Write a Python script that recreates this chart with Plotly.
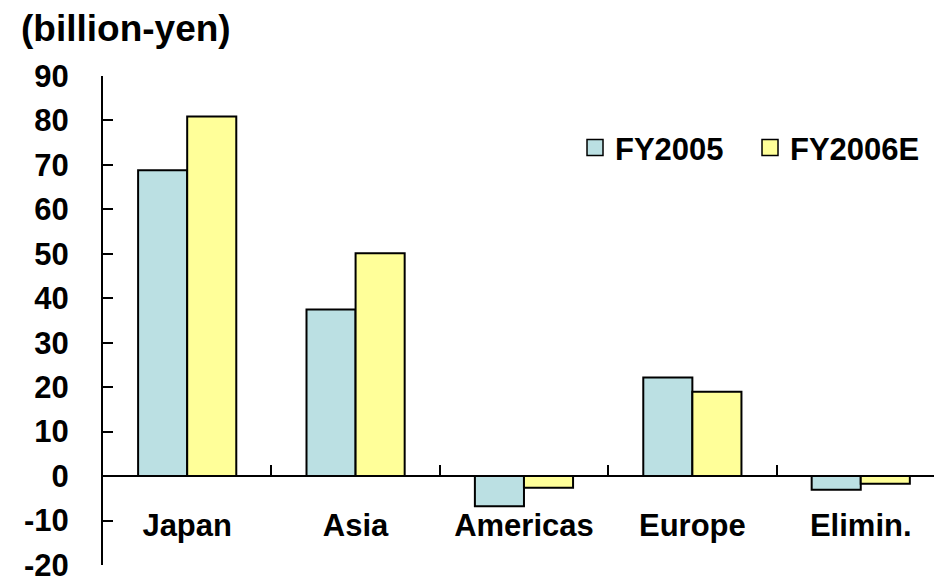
import plotly.graph_objects as go

# Operating income by region (billion yen)
regions = ["Japan", "Asia", "Americas", "Europe", "Elimin."]
fy2005 = [68.8, 37.5, -6.8, 22.2, -3.1]
fy2006e = [80.9, 50.1, -2.6, 19.0, -1.7]
y_ticks = [90, 80, 70, 60, 50, 40, 30, 20, 10, 0, -10, -20]
y_tick_text = ["90", "80", "70", "60", "50", "40", "30", "20", "10", "0", "-10", "-20"]

series = [("FY2005", fy2005, "#BBE0E3"), ("FY2006E", fy2006e, "#FFFF99")]

FONT = "Liberation Sans, Arial, sans-serif"

fig = go.Figure()
for name, values, color in series:
    fig.add_trace(go.Bar(
        x=regions, y=values, name=name, showlegend=False, legendgroup=name,
        marker=dict(color=color, line=dict(color="black", width=2)),
    ))
# legend keys drawn as larger outlined squares
for name, values, color in series:
    fig.add_trace(go.Scatter(
        x=[None], y=[None], name=name, mode="markers", legendgroup=name,
        marker=dict(symbol="square", size=16, color=color,
                    line=dict(color="black", width=1.5)),
    ))

y_min, y_max = -20, 90
zero_pos = (0 - y_min) / (y_max - y_min)

fig.update_layout(
    width=934, height=576,
    margin=dict(l=103, r=0, t=76, b=11, autoexpand=False),
    plot_bgcolor="white", paper_bgcolor="white",
    barmode="group", bargap=0.417, bargroupgap=0,
    font=dict(family=FONT, size=31, color="black", weight="bold"),
    showlegend=True,
    legend=dict(
        orientation="h", x=0.568, y=0.853, xanchor="left", yanchor="middle",
        font=dict(family=FONT, size=31, color="black", weight="bold"),
        bgcolor="rgba(0,0,0,0)", traceorder="normal",
        itemwidth=30, itemsizing="trace", entrywidth=130,
    ),
    xaxis=dict(
        range=[-0.5, 4.435], automargin=False,
        anchor="free", position=zero_pos,
        showline=True, linecolor="black", linewidth=2,
        ticks="inside", ticklen=10, tickwidth=2, tickcolor="black",
        tickson="boundaries",
        ticklabelstandoff=22,
        showgrid=False, zeroline=False,
        tickfont=dict(family=FONT, size=31, color="black", weight="bold"),
    ),
    yaxis=dict(
        range=[y_min, y_max], automargin=False,
        tickvals=y_ticks, ticktext=y_tick_text,
        showline=True, linecolor="black", linewidth=2,
        ticks="inside", ticklen=10, tickwidth=2, tickcolor="black",
        ticklabelstandoff=26, ticklabeloverflow="allow",
        showgrid=False, zeroline=False,
        tickfont=dict(family=FONT, size=31, color="black", weight="bold"),
    ),
    annotations=[dict(
        text="(billion-yen)", xref="paper", yref="paper",
        x=(19 - 103) / 831, y=(565 - 29) / 489,
        xanchor="left", yanchor="middle", showarrow=False,
        font=dict(family=FONT, size=37, color="black", weight="bold"),
    )],
)

fig.write_html("out.html")
